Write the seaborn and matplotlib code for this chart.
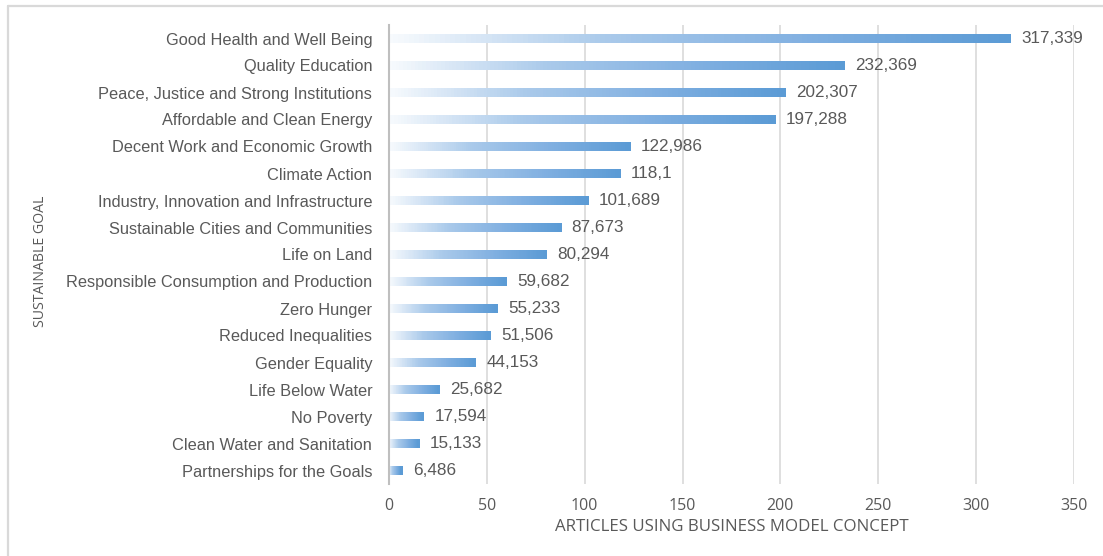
import numpy as np
import pandas as pd
import matplotlib
matplotlib.use("Agg")
import matplotlib.pyplot as plt
from matplotlib.colors import LinearSegmentedColormap
from matplotlib.collections import PolyCollection
from matplotlib.lines import Line2D
import seaborn as sns

goals = [
    "Good Health and Well Being",
    "Quality Education",
    "Peace, Justice and Strong Institutions",
    "Affordable and Clean Energy",
    "Decent Work and Economic Growth",
    "Climate Action",
    "Industry, Innovation and Infrastructure",
    "Sustainable Cities and Communities",
    "Life on Land",
    "Responsible Consumption and Production",
    "Zero Hunger",
    "Reduced Inequalities",
    "Gender Equality",
    "Life Below Water",
    "No Poverty",
    "Clean Water and Sanitation",
    "Partnerships for the Goals",
]
articles = [317.339, 232.369, 202.307, 197.288, 122.986, 118.1, 101.689, 87.673,
            80.294, 59.682, 55.233, 51.506, 44.153, 25.682, 17.594, 15.133, 6.486]
value_labels = ["317,339", "232,369", "202,307", "197,288", "122,986", "118,1",
                "101,689", "87,673", "80,294", "59,682", "55,233", "51,506",
                "44,153", "25,682", "17,594", "15,133", "6,486"]
x_ticks = [0, 50, 100, 150, 200, 250, 300, 350]

df = pd.DataFrame({"goal": goals, "articles": articles})

sns.set_theme(style="white")
plt.rcParams["font.family"] = ["Liberation Sans", "DejaVu Sans"]

W, H = 1103, 556
fig = plt.figure(figsize=(W / 100, H / 100), dpi=100)
ax = fig.add_axes([389 / W, 1 - 484 / H, 685 / W, 459 / H])

text_gray = "#595959"
grid_gray = "#d9d9d9"

sns.barplot(data=df, x="articles", y="goal", orient="h", width=0.23,
            color="#5B9BD5", ax=ax, zorder=3)

ax.set_xlim(0, 350)
ax.set_ylim(len(goals) - 0.5, -0.5)
ax.set_xticks(x_ticks)
ax.set_xticklabels([str(t) for t in x_ticks], family=["Open Sans", "DejaVu Sans"],
                   fontsize=11.5, color=text_gray)
ax.tick_params(axis="x", length=0, pad=10)
ax.tick_params(axis="y", length=0, pad=12, labelsize=11.8, labelcolor=text_gray)

for s in ["top", "right", "bottom"]:
    ax.spines[s].set_visible(False)
ax.spines["left"].set_color("#bfbfbf")
ax.spines["left"].set_linewidth(1.5)
ax.spines["left"].set_zorder(4)

ax.grid(axis="x", color=grid_gray, linewidth=1.2, zorder=0)
ax.grid(axis="y", visible=False)
ax.set_axisbelow(True)

# gradient fill of bars: split each seaborn bar into thin coloured slices
cmap = LinearSegmentedColormap.from_list(
    "grad", [(0.0, "#f7fafd"), (0.35, "#a9c9ea"), (0.7, "#7eaee0"), (1.0, "#5B9BD5")])
n_slices = 120
for patch in list(ax.patches):
    x0, y0 = patch.get_x(), patch.get_y()
    w, h = patch.get_width(), patch.get_height()
    if w <= 0:
        continue
    patch.set_visible(False)
    edges = np.linspace(x0, x0 + w, n_slices + 1)
    verts = [[(edges[k], y0), (edges[k + 1], y0), (edges[k + 1], y0 + h), (edges[k], y0 + h)]
             for k in range(n_slices)]
    cols = cmap(np.linspace(0, 1, n_slices))
    pc = PolyCollection(verts, facecolors=cols, edgecolors=cols, linewidths=0.3,
                        antialiased=False, zorder=3)
    ax.add_collection(pc)

ax.set_xlim(0, 350)
ax.set_ylim(len(goals) - 0.5, -0.5)

# value labels
for i, (v, lab) in enumerate(zip(articles, value_labels)):
    ax.annotate(lab, xy=(v, i), xytext=(8, 0), textcoords="offset points",
                va="center", ha="left", fontsize=12.3, color=text_gray)

ax.set_xlabel("ARTICLES USING BUSINESS MODEL CONCEPT",
              family=["Open Sans", "DejaVu Sans"], fontsize=12.2, color=text_gray,
              labelpad=4)
ax.set_ylabel("SUSTAINABLE GOAL", family=["Open Sans", "DejaVu Sans"],
              fontsize=10.2, color=text_gray)
ax.yaxis.set_label_coords((48 - 389) / 685, 0.485)

# partial chart frame (top and left)
fig.add_artist(Line2D([8 / W, 1], [1 - 6 / H, 1 - 6 / H], transform=fig.transFigure,
                      color="#d9d9d9", linewidth=1.6))
fig.add_artist(Line2D([8 / W, 8 / W], [0, 1 - 6 / H], transform=fig.transFigure,
                      color="#d9d9d9", linewidth=1.6))

fig.savefig("out.png", dpi=100, facecolor="white")
